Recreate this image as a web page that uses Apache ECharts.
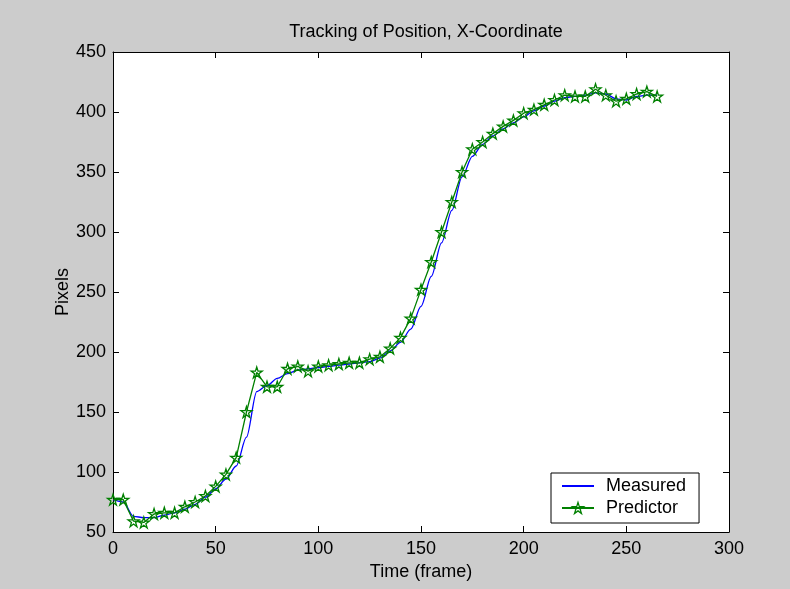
<!DOCTYPE html>
<html>
<head>
<meta charset="utf-8">
<script src="https://cdn.jsdelivr.net/npm/echarts@6/dist/echarts.min.js"></script>
<style>
  html, body { margin: 0; padding: 0; background: #cccccc; }
  #chart { width: 790px; height: 589px; }
</style>
</head>
<body>
<div id="chart"></div>
<script>
// Frame numbers (every 5th frame)
const frames = [0, 5, 10, 15, 20, 25, 30, 35, 40, 45, 50, 55, 60, 65, 70, 75, 80, 85, 90, 95,
  100, 105, 110, 115, 120, 125, 130, 135, 140, 145, 150, 155, 160, 165, 170, 175, 180, 185, 190, 195,
  200, 205, 210, 215, 220, 225, 230, 235, 240, 245, 250, 255, 260, 265];

// Measured x-coordinate of the tracked object (pixels)
const measured = [77, 75, 63, 62, 62, 64, 66, 69, 73, 79, 86, 94, 105, 129, 167, 172, 178, 182, 185, 186,
  187, 188, 189, 190, 191, 192, 195, 201, 208, 219, 238, 263, 291, 318, 346, 363, 373, 380, 386, 391,
  396, 401, 405, 409, 412, 413, 414, 416, 415, 411, 410, 413, 414, 414];

// Predicted x-coordinate (pixels)
const predictor = [77, 77, 59, 58, 65, 66, 66, 71, 75, 80, 88, 98, 112, 150, 183, 171, 171, 186, 188, 184,
  188, 189, 190, 191, 191, 194, 196, 203, 212, 228, 252, 275, 300, 325, 350, 369, 375, 382, 388, 393,
  399, 402, 406, 410, 414, 413, 413, 419, 414, 409, 411, 415, 417, 413];

const xTicks = { min: 0, max: 300, interval: 50 };
const yTicks = { min: 50, max: 450, interval: 50 };

const font = 'Liberation Sans, Arial, Helvetica, sans-serif';
// five-pointed star outline used as the predictor marker
const starPath = 'path://M50 0 L61.17 34.63 L97.55 34.55 L68.07 55.87 L79.39 90.45 L50 69 L20.61 90.45 L31.93 55.87 L2.45 34.55 L38.83 34.63 Z';
const hollowStar = { color: 'rgba(255,255,255,0)', borderColor: '#008000', borderWidth: 1.3 };

const chart = echarts.init(document.getElementById('chart'), null, { renderer: 'canvas' });

const axisLine = { show: true, onZero: false, lineStyle: { color: '#000', width: 1 } };
const tick = { show: true, inside: true, length: 6, lineStyle: { color: '#000', width: 1 } };

chart.setOption({
  animation: false,
  backgroundColor: '#cccccc',
  textStyle: { fontFamily: font },
  title: {
    text: 'Tracking of Position, X-Coordinate',
    left: 421, top: 18, textAlign: 'center',
    textStyle: { fontFamily: font, fontSize: 18, fontWeight: 'normal', color: '#000' }
  },
  grid: { left: 113, right: 61, top: 52, bottom: 57, show: true, backgroundColor: '#ffffff', borderWidth: 0 },
  legend: {
    orient: 'vertical',
    left: 551, top: 473,
    backgroundColor: '#ffffff', borderColor: '#000', borderWidth: 1,
    padding: [4, 13, 6, 10],
    itemWidth: 32, itemHeight: 14, itemGap: 4,
    textStyle: { fontFamily: font, fontSize: 18, color: '#000', lineHeight: 18, padding: [0, 0, 0, 7] },
    data: [
      { name: 'Measured', itemStyle: { opacity: 0 } },
      { name: 'Predictor', itemStyle: hollowStar }
    ]
  },
  xAxis: [
    {
      type: 'value', position: 'bottom', min: xTicks.min, max: xTicks.max, interval: xTicks.interval,
      name: 'Time (frame)', nameLocation: 'middle', nameGap: 31, nameMoveOverlap: false,
      nameTextStyle: { fontFamily: font, fontSize: 18, color: '#000' },
      axisLine, axisTick: tick, splitLine: { show: false },
      axisLabel: { fontFamily: font, fontSize: 18, color: '#000', margin: 8 }
    },
    {
      type: 'value', position: 'top', min: xTicks.min, max: xTicks.max, interval: xTicks.interval,
      axisLine, axisTick: tick, splitLine: { show: false }, axisLabel: { show: false }
    }
  ],
  yAxis: [
    {
      type: 'value', position: 'left', min: yTicks.min, max: yTicks.max, interval: yTicks.interval,
      name: 'Pixels', nameLocation: 'middle', nameGap: 41, nameRotate: 90, nameMoveOverlap: false,
      nameTextStyle: { fontFamily: font, fontSize: 18, color: '#000' },
      axisLine, axisTick: tick, splitLine: { show: false },
      axisLabel: { fontFamily: font, fontSize: 18, color: '#000', margin: 7 }
    },
    {
      type: 'value', position: 'right', min: yTicks.min, max: yTicks.max, interval: yTicks.interval,
      axisLine, axisTick: tick, splitLine: { show: false }, axisLabel: { show: false }
    }
  ],
  series: [
    {
      name: 'Measured', type: 'line',
      data: frames.map((f, i) => [f, measured[i]]),
      symbol: 'none', smooth: 0.3, smoothMonotone: 'x',
      lineStyle: { color: '#0000ff', width: 1.3 },
      itemStyle: { color: '#0000ff' }
    },
    {
      name: 'Predictor', type: 'line',
      data: frames.map((f, i) => [f, predictor[i]]),
      symbol: starPath, symbolSize: 11, showSymbol: true,
      lineStyle: { color: '#008000', width: 1.3 },
      itemStyle: hollowStar
    }
  ]
});
</script>
</body>
</html>
